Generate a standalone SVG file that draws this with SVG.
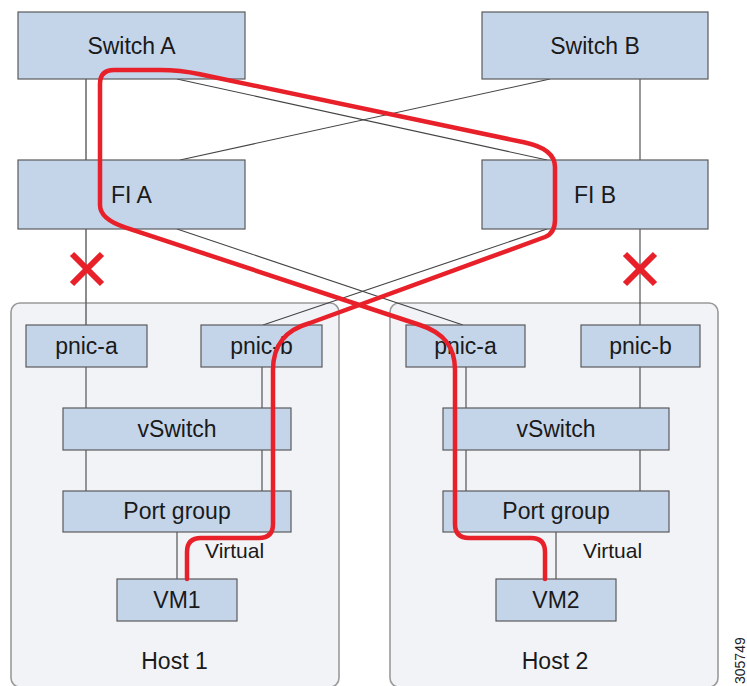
<svg xmlns="http://www.w3.org/2000/svg" width="747" height="686" viewBox="0 0 747 686">
<style>
.box{fill:#c4d5ea;stroke:#5a5a5a;stroke-width:1.2}
.host{fill:#f2f3f7;stroke:#9a9a9a;stroke-width:1.6}
.lbl{font-family:"Liberation Sans",Arial,sans-serif;font-size:23px;fill:#1a1a1a;text-anchor:middle}
.small{font-family:"Liberation Sans",Arial,sans-serif;font-size:21px;fill:#1a1a1a}
.ln{stroke:#444;stroke-width:1.1;fill:none}
.vl{stroke:#666;stroke-width:1.5;fill:none}
.red{stroke:#e8202a;stroke-width:4.5;fill:none;stroke-linecap:round;stroke-linejoin:round}
.x{stroke:#e8202a;stroke-width:6;fill:none}
</style>
<rect width="747" height="686" fill="#ffffff"/>
<g id="host1"><rect class="host" x="11" y="303" width="328" height="384" rx="9"/><text class="lbl" x="174.5" y="669">Host 1</text></g>
<g id="host2"><rect class="host" x="390" y="303" width="328" height="384" rx="9"/><text class="lbl" x="555" y="669">Host 2</text></g>
<g id="connectors">
<line class="vl" x1="86" y1="79" x2="86" y2="160"/>
<line class="ln" x1="640" y1="79" x2="640" y2="160"/>
<line class="ln" x1="177" y1="79" x2="547" y2="160"/>
<line class="ln" x1="550" y1="79" x2="180" y2="160"/>
<line class="vl" x1="86" y1="229" x2="86" y2="325"/>
<line class="ln" x1="640" y1="229" x2="640" y2="325"/>
<line class="ln" x1="177" y1="229" x2="463" y2="325"/>
<line class="ln" x1="547" y1="229" x2="263" y2="325"/>
<line class="ln" x1="86" y1="367" x2="86" y2="408"/>
<line class="ln" x1="86" y1="450" x2="86" y2="491"/>
<line class="ln" x1="262" y1="367" x2="262" y2="408"/>
<line class="ln" x1="262" y1="450" x2="262" y2="491"/>
<line class="ln" x1="177" y1="532" x2="177" y2="579"/>
<line class="ln" x1="466" y1="367" x2="466" y2="408"/>
<line class="ln" x1="466" y1="450" x2="466" y2="491"/>
<line class="ln" x1="640" y1="367" x2="640" y2="408"/>
<line class="ln" x1="640" y1="450" x2="640" y2="491"/>
<line class="ln" x1="556" y1="532" x2="556" y2="579"/>
</g>
<g id="switch-a"><rect class="box" x="18" y="12" width="227" height="67"/><text class="lbl" x="131.5" y="54">Switch A</text></g>
<g id="switch-b"><rect class="box" x="482" y="12" width="226" height="67"/><text class="lbl" x="595" y="54">Switch B</text></g>
<g id="fi-a"><rect class="box" x="18" y="160" width="227" height="69"/><text class="lbl" x="131.5" y="203">FI A</text></g>
<g id="fi-b"><rect class="box" x="482" y="160" width="226" height="69"/><text class="lbl" x="595" y="203">FI B</text></g>
<g id="h1-pnic-a"><rect class="box" x="26" y="325" width="121" height="42"/><text class="lbl" x="86.5" y="354">pnic-a</text></g>
<g id="h1-pnic-b"><rect class="box" x="201" y="325" width="121" height="42"/><text class="lbl" x="261.5" y="354">pnic-b</text></g>
<g id="h1-vswitch"><rect class="box" x="63" y="408" width="228" height="42"/><text class="lbl" x="177" y="437">vSwitch</text></g>
<g id="h1-portgroup"><rect class="box" x="63" y="491" width="228" height="41"/><text class="lbl" x="177" y="519">Port group</text></g>
<g id="vm1"><rect class="box" x="117" y="579" width="120" height="42"/><text class="lbl" x="177" y="608">VM1</text></g>
<text class="small" x="205" y="558">Virtual</text>
<g id="h2-pnic-a"><rect class="box" x="406" y="325" width="119" height="42"/><text class="lbl" x="465.5" y="354">pnic-a</text></g>
<g id="h2-pnic-b"><rect class="box" x="581" y="325" width="119" height="42"/><text class="lbl" x="640.5" y="354">pnic-b</text></g>
<g id="h2-vswitch"><rect class="box" x="443" y="408" width="226" height="42"/><text class="lbl" x="556" y="437">vSwitch</text></g>
<g id="h2-portgroup"><rect class="box" x="443" y="491" width="226" height="41"/><text class="lbl" x="556" y="519">Port group</text></g>
<g id="vm2"><rect class="box" x="496" y="579" width="120" height="42"/><text class="lbl" x="556" y="608">VM2</text></g>
<text class="small" x="583" y="558">Virtual</text>
<g id="red-path">
<path class="red" d="M187 579 L187 552 Q187 538 201 538 L259 538 Q273 538 273 524 L273 370 C273 345 285 330 310 323 L545 237 Q555 233 555 220 L555 167 Q555 149 525 142.5 L200 74.2 Q180 70 160 70 L114 70 Q100 70 100 84 L100 205 Q100 219 125 227.3 L420 325 C445 333 455 348 455 370 L455 524 Q455 538 469 538 L531 538 Q545 538 545 552 L545 579"/>
</g>
<g id="fail-a"><path class="x" d="M72 254 L102 284 M102 254 L72 284"/></g>
<g id="fail-b"><path class="x" d="M625 254 L655 284 M655 254 L625 284"/></g>
<text transform="translate(745,684) rotate(-90)" font-family="'Liberation Sans',Arial,sans-serif" font-size="14" fill="#222">305749</text>
</svg>
